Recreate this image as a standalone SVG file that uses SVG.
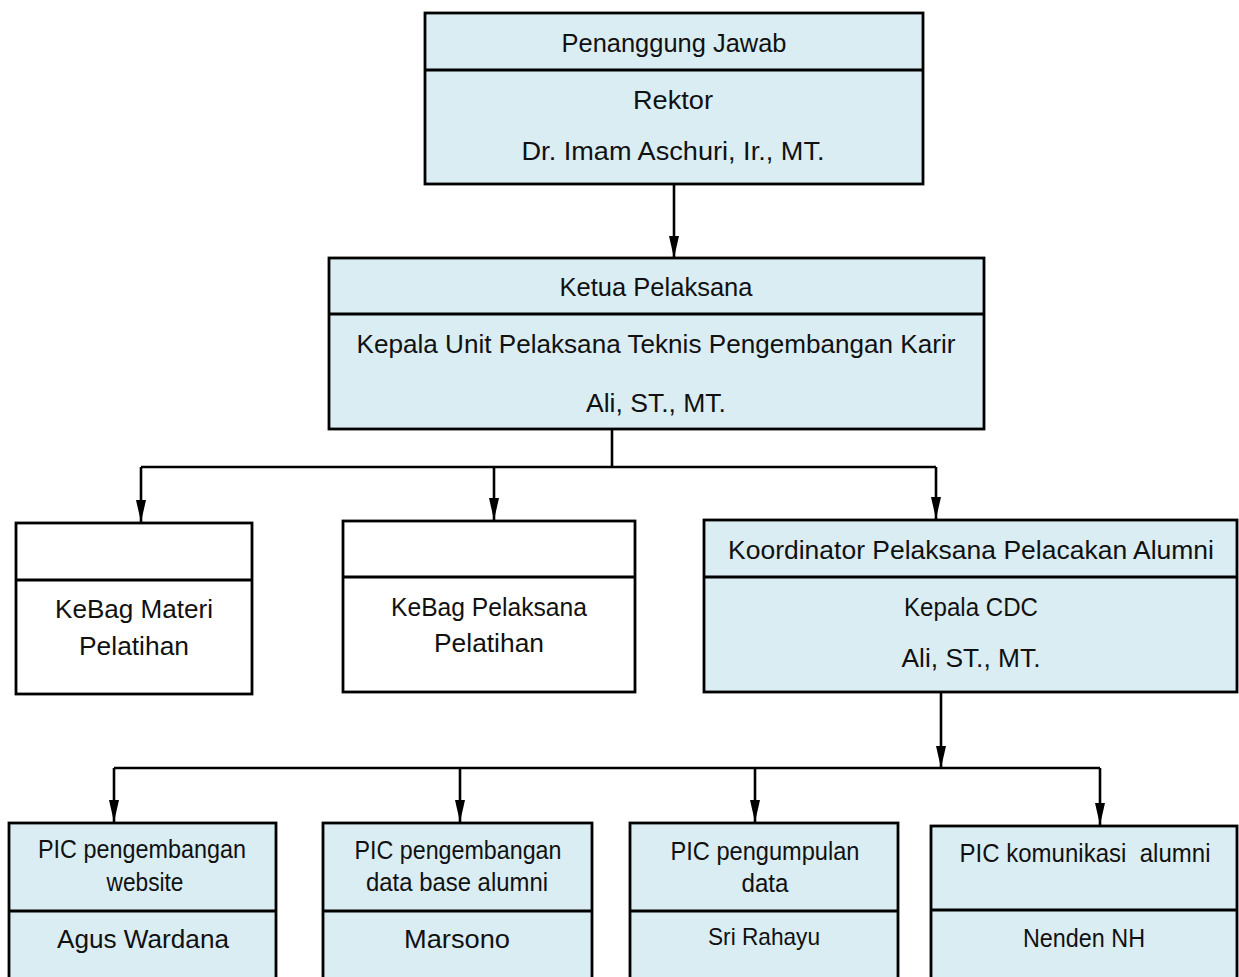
<svg xmlns="http://www.w3.org/2000/svg" width="1239" height="977" viewBox="0 0 1239 977">
<style>
.box{fill:#DAEDF3;stroke:#000;stroke-width:2.8}
.wbox{fill:#fff;stroke:#000;stroke-width:2.8}
.div{stroke:#000;stroke-width:2.8}
.t{font-family:"Liberation Sans",Arial,sans-serif;font-size:26px;fill:#111;text-anchor:middle}
.s{font-size:24px}
.c{fill:none;stroke:#000;stroke-width:2.6}
</style>
<defs>
<marker id="ah" viewBox="0 0 22 10" markerWidth="22" markerHeight="10" refX="22" refY="5" orient="auto" markerUnits="userSpaceOnUse">
<path d="M0,0 L22,5 L0,10 z" fill="#000"/>
</marker>
</defs>
<rect width="1239" height="977" fill="#fff"/>

<g id="connectors">
<path class="c" d="M674,185 V258" marker-end="url(#ah)"/>
<path class="c" d="M612,430 V467"/>
<path class="c" d="M141,467 H936"/>
<path class="c" d="M141,467 V522" marker-end="url(#ah)"/>
<path class="c" d="M494,467 V520" marker-end="url(#ah)"/>
<path class="c" d="M936,467 V519" marker-end="url(#ah)"/>
<path class="c" d="M941,692 V768" marker-end="url(#ah)"/>
<path class="c" d="M114,768 H1100"/>
<path class="c" d="M114,768 V822" marker-end="url(#ah)"/>
<path class="c" d="M460,768 V822" marker-end="url(#ah)"/>
<path class="c" d="M755,768 V822" marker-end="url(#ah)"/>
<path class="c" d="M1100,768 V825" marker-end="url(#ah)"/>
</g>

<g id="penanggung-jawab">
<rect class="box" x="425" y="13" width="498" height="171"/>
<line class="div" x1="425" y1="70" x2="923" y2="70"/>
<text class="t" x="674" y="52" textLength="225" lengthAdjust="spacingAndGlyphs">Penanggung Jawab</text>
<text class="t" x="673" y="109" textLength="80" lengthAdjust="spacingAndGlyphs">Rektor</text>
<text class="t" x="673" y="160" textLength="303" lengthAdjust="spacingAndGlyphs">Dr. Imam Aschuri, Ir., MT.</text>
</g>

<g id="ketua-pelaksana">
<rect class="box" x="329" y="258" width="655" height="171"/>
<line class="div" x1="329" y1="314" x2="984" y2="314"/>
<text class="t" x="656" y="296" textLength="193" lengthAdjust="spacingAndGlyphs">Ketua Pelaksana</text>
<text class="t" x="656" y="353" textLength="599" lengthAdjust="spacingAndGlyphs">Kepala Unit Pelaksana Teknis Pengembangan Karir</text>
<text class="t" x="656" y="412" textLength="140" lengthAdjust="spacingAndGlyphs">Ali, ST., MT.</text>
</g>

<g id="kebag-materi">
<rect class="wbox" x="16" y="523" width="236" height="171"/>
<line class="div" x1="16" y1="580" x2="252" y2="580"/>
<text class="t" x="134" y="618" textLength="158" lengthAdjust="spacingAndGlyphs">KeBag Materi</text>
<text class="t" x="134" y="655" textLength="110" lengthAdjust="spacingAndGlyphs">Pelatihan</text>
</g>

<g id="kebag-pelaksana">
<rect class="wbox" x="343" y="521" width="292" height="171"/>
<line class="div" x1="343" y1="577" x2="635" y2="577"/>
<text class="t" x="489" y="616" textLength="196" lengthAdjust="spacingAndGlyphs">KeBag Pelaksana</text>
<text class="t" x="489" y="652" textLength="110" lengthAdjust="spacingAndGlyphs">Pelatihan</text>
</g>

<g id="koordinator">
<rect class="box" x="704" y="520" width="533" height="172"/>
<line class="div" x1="704" y1="577" x2="1237" y2="577"/>
<text class="t" x="971" y="559" textLength="486" lengthAdjust="spacingAndGlyphs">Koordinator Pelaksana Pelacakan Alumni</text>
<text class="t" x="971" y="616" textLength="134" lengthAdjust="spacingAndGlyphs">Kepala CDC</text>
<text class="t" x="971" y="667" textLength="139" lengthAdjust="spacingAndGlyphs">Ali, ST., MT.</text>
</g>

<g id="pic-website">
<rect class="box" x="9" y="823" width="267" height="170"/>
<line class="div" x1="9" y1="911" x2="276" y2="911"/>
<text class="t" x="142" y="858" textLength="208" lengthAdjust="spacingAndGlyphs">PIC pengembangan</text>
<text class="t" x="145" y="891" textLength="77" lengthAdjust="spacingAndGlyphs">website</text>
<text class="t" x="143" y="948" textLength="172" lengthAdjust="spacingAndGlyphs">Agus Wardana</text>
</g>

<g id="pic-database">
<rect class="box" x="323" y="823" width="269" height="170"/>
<line class="div" x1="323" y1="911" x2="592" y2="911"/>
<text class="t" x="458" y="859" textLength="207" lengthAdjust="spacingAndGlyphs">PIC pengembangan</text>
<text class="t" x="457" y="891" textLength="182" lengthAdjust="spacingAndGlyphs">data base alumni</text>
<text class="t" x="457" y="948" textLength="106" lengthAdjust="spacingAndGlyphs">Marsono</text>
</g>

<g id="pic-pengumpulan">
<rect class="box" x="630" y="823" width="268" height="170"/>
<line class="div" x1="630" y1="911" x2="898" y2="911"/>
<text class="t" x="765" y="860" textLength="189" lengthAdjust="spacingAndGlyphs">PIC pengumpulan</text>
<text class="t" x="765" y="892" textLength="47" lengthAdjust="spacingAndGlyphs">data</text>
<text class="t s" x="764" y="945" textLength="112" lengthAdjust="spacingAndGlyphs">Sri Rahayu</text>
</g>

<g id="pic-komunikasi">
<rect class="box" x="931" y="826" width="306" height="167"/>
<line class="div" x1="931" y1="910" x2="1237" y2="910"/>
<text class="t" x="1085" y="862" textLength="251" lengthAdjust="spacingAndGlyphs" xml:space="preserve">PIC komunikasi  alumni</text>
<text class="t" x="1084" y="947" textLength="122" lengthAdjust="spacingAndGlyphs">Nenden NH</text>
</g>
</svg>
